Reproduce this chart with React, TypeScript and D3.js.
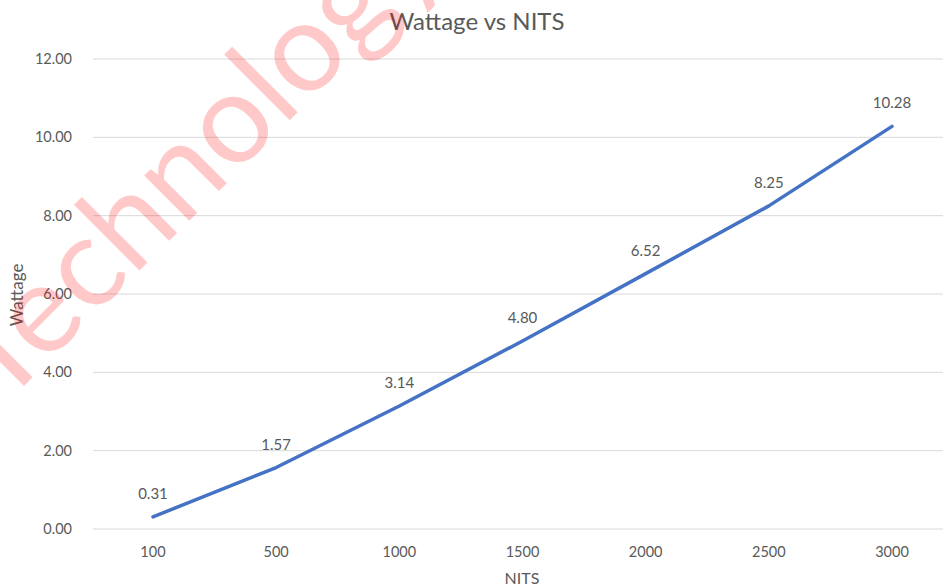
import React from "react";
import * as d3 from "d3";

// chart data
const nits = ["100", "500", "1000", "1500", "2000", "2500", "3000"];
const wattage = [0.31, 1.57, 3.14, 4.8, 6.52, 8.25, 10.28];
const yTicks = [0, 2, 4, 6, 8, 10, 12];

const W = 943;
const H = 587;
const FONT = "Lato, 'Open Sans', sans-serif";
const TEXT = "#595959";

function App() {
	const x = d3.scalePoint<string>().domain(nits).range([91.4, 953.6]).padding(0.5);
	const y = d3.scaleLinear().domain([0, 12]).range([529, 59]);

	const line = d3
		.line<number>()
		.x((d, i) => x(nits[i]) as number)
		.y((d) => y(d));

	return (
		<svg
			width={W}
			height={H}
			style={{ position: "absolute", left: 0, top: 0, background: "#fff" }}
			fontFamily={FONT}
		>
			{/* gridlines + y labels */}
			{yTicks.map((t) => (
				<g key={t}>
					<line x1={93} x2={W} y1={y(t)} y2={y(t)} stroke="#d9d9d9" strokeWidth={1} />
					<text x={72} y={y(t)} dy="0.35em" textAnchor="end" fontSize={14.5} fill={TEXT}>
						{t.toFixed(2)}
					</text>
				</g>
			))}

			{/* x labels */}
			{nits.map((n) => (
				<text key={n} x={x(n)} y={557} textAnchor="middle" fontSize={14.5} fill={TEXT}>
					{n}
				</text>
			))}

			<path
				d={line(wattage) || ""}
				fill="none"
				stroke="#4472C4"
				strokeWidth={3.5}
				strokeLinecap="round"
				strokeLinejoin="round"
			/>

			{/* data labels */}
			{wattage.map((v, i) => (
				<text
					key={i}
					x={x(nits[i])}
					y={y(v) - 18}
					textAnchor="middle"
					fontSize={15}
					fill={TEXT}
				>
					{v.toFixed(2)}
				</text>
			))}

			{/* titles */}
			<text x={477} y={30} textAnchor="middle" fontSize={24} fill={TEXT}>
				Wattage vs NITS
			</text>
			<text x={522} y={584} textAnchor="middle" fontSize={16} fill={TEXT}>
				NITS
			</text>
			<text
				transform="translate(23,295) rotate(-90)"
				textAnchor="middle"
				fontSize={17}
				fill={TEXT}
			>
				Wattage
			</text>

			{/* watermark */}
			<text
				transform="translate(2,408) rotate(-45)"
				fontSize={126}
				fill="rgb(255,0,0)"
				fillOpacity={0.21}
			>
				Technology
			</text>
		</svg>
	);
}

export default App;
